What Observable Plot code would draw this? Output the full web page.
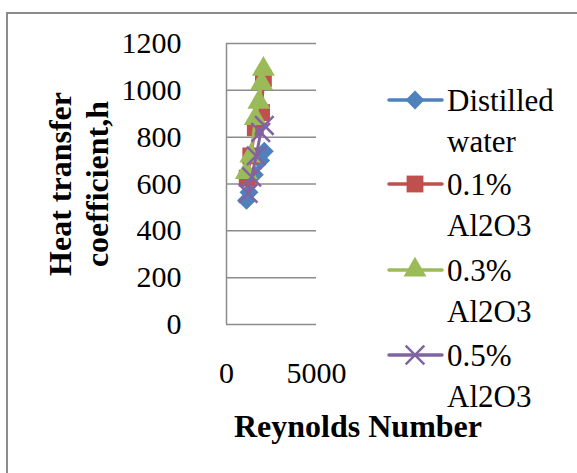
<!DOCTYPE html>
<html>
<head>
<meta charset="utf-8">
<script src="https://cdn.jsdelivr.net/npm/d3@7"></script>
<script src="https://cdn.jsdelivr.net/npm/@observablehq/plot@0.6"></script>
<style>
  html, body { margin: 0; padding: 0; background: #fff; }
  #wrap { position: relative; width: 577px; height: 473px; overflow: hidden; }
  #frame { position: absolute; left: 6px; top: 12px; width: 600px; height: 500px; border-left: 2px solid #8c8c8c; border-top: 2px solid #8c8c8c; box-sizing: border-box; }
  #chart { position: absolute; left: 0; top: 0; }
</style>
</head>
<body>
<div id="wrap"><div id="frame"></div><div id="chart"></div></div>
<script>
// ---- data ----
const seriesNames = ["Distilled water", "0.1% Al2O3", "0.3% Al2O3", "0.5% Al2O3"];
const legendLines = [["Distilled", "water"], ["0.1%", "Al2O3"], ["0.3%", "Al2O3"], ["0.5%", "Al2O3"]];
const colors = ["#4f81bd", "#c0504d", "#9bbb59", "#8064a2"];
const symbols = ["diamond2", "square", "triangle", "times"];

const waterRe = [1110, 1250, 1550, 1900, 2100];
const waterH  = [530, 565, 640, 700, 740];
const al01Re  = [1150, 1350, 1600, 1950, 2050];
const al01H   = [625, 720, 840, 905, 1050];
const al03Re  = [1100, 1350, 1600, 1800, 1950, 2050];
const al03H   = [650, 720, 880, 950, 1030, 1090];
const al05Re  = [1200, 1400, 1650, 1900, 2100];
const al05H   = [560, 630, 720, 820, 850];

const yTicks = [0, 200, 400, 600, 800, 1000, 1200];
const xTicks = [0, 5000];
const xTitle = "Reynolds Number";
const yTitle = ["Heat transfer", "coefficient,h"];

const reList = [waterRe, al01Re, al03Re, al05Re];
const hList = [waterH, al01H, al03H, al05H];
const rows = [];
seriesNames.forEach((s, i) => reList[i].forEach((re, j) => rows.push({series: s, idx: i, re, h: hList[i][j]})));

const font = "'Liberation Serif', 'Times New Roman', serif";
const symR = [8.5, 9.5, 8.5, 8.5];

const marks = [
  Plot.gridY(yTicks, {stroke: "#8c8c8c", strokeOpacity: 1, strokeWidth: 1.5}),
  Plot.ruleX([0], {stroke: "#8c8c8c", strokeWidth: 1.5}),
  Plot.axisY(yTicks, {tickSize: 0, tickPadding: 45, fontSize: 30, label: null, tickFormat: d => String(d)}),
  Plot.axisX(xTicks, {tickSize: 0, tickPadding: 37, fontSize: 30, label: null, tickFormat: d => String(d)})
];
seriesNames.forEach((s, i) => {
  const data = rows.filter(d => d.idx === i);
  marks.push(Plot.line(data, {x: "re", y: "h", stroke: colors[i], strokeWidth: 3}));
  if (symbols[i] === "times") {
    marks.push(Plot.dot(data, {x: "re", y: "h", symbol: "times", r: symR[i], stroke: colors[i], strokeWidth: 2.5}));
  } else {
    marks.push(Plot.dot(data, {x: "re", y: "h", symbol: symbols[i], r: symR[i], fill: colors[i], stroke: null}));
  }
});

const plot = Plot.plot({
  width: 577, height: 473,
  marginLeft: 226, marginRight: 261, marginTop: 43, marginBottom: 149,
  x: {domain: [0, 5000]},
  y: {domain: [0, 1200]},
  style: {fontFamily: font, background: "transparent", color: "#000"},
  marks
});
document.getElementById("chart").appendChild(plot);

const svg = d3.select(plot);
// titles
svg.append("text").attr("x", 358).attr("y", 437).attr("text-anchor", "middle")
  .attr("font-family", font).attr("font-size", 32).attr("font-weight", "bold").text(xTitle);
yTitle.forEach((t, k) => {
  svg.append("text").attr("transform", `translate(${71 + k * 37},184) rotate(-90)`)
    .attr("text-anchor", "middle").attr("font-family", font).attr("font-size", 32)
    .attr("font-weight", "bold").text(t);
});
// legend
const legY = [100, 184, 270, 355];
seriesNames.forEach((s, i) => {
  const g = svg.append("g").attr("transform", `translate(0,${legY[i]})`);
  g.append("line").attr("x1", 389).attr("x2", 442).attr("y1", 0).attr("y2", 0)
    .attr("stroke", colors[i]).attr("stroke-width", 3.5).attr("stroke-linecap", "round");
  const symMap = {diamond2: d3.symbolDiamond2, square: d3.symbolSquare, triangle: d3.symbolTriangle, times: d3.symbolTimes};
  const p = d3.symbol(symMap[symbols[i]], Math.PI * symR[i] * symR[i])();
  const path = g.append("path").attr("d", p).attr("transform", "translate(415,0)");
  if (symbols[i] === "times") path.attr("fill", "none").attr("stroke", colors[i]).attr("stroke-width", 2.5);
  else path.attr("fill", colors[i]);
  legendLines[i].forEach((t, k) => {
    g.append("text").attr("x", 447).attr("y", 11 + k * 41).attr("text-anchor", "start")
      .attr("font-family", font).attr("font-size", 31).text(t);
  });
});
</script>
</body>
</html>
